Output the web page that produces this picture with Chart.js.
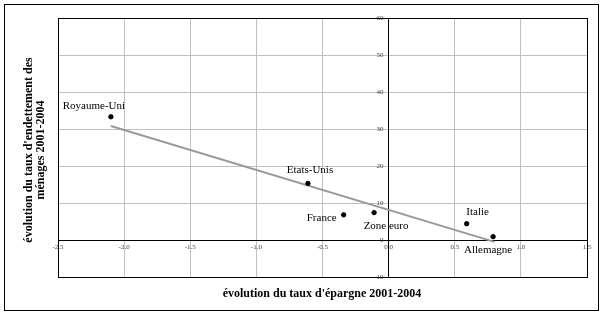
<!DOCTYPE html>
<html>
<head>
<meta charset="utf-8">
<script src="https://cdn.jsdelivr.net/npm/chart.js@4.4.0/dist/chart.umd.min.js"></script>
<style>
html, body { margin: 0; padding: 0; background: #fff; }
</style>
</head>
<body>
<canvas id="myChart" width="603" height="315"></canvas>
<script>
// valeurs
const pays = ['Royaume-Uni', 'Etats-Unis', 'France', 'Zone euro', 'Italie', 'Allemagne'];
const epargne = [-2.10, -0.61, -0.34, -0.11, 0.59, 0.79];      // evolution du taux d'epargne
const endettement = [33.3, 15.3, 6.8, 7.4, 4.4, 0.9];          // evolution du taux d'endettement
// droite de tendance
const tendanceX = [-2.1, 0.8];
const tendanceY = [30.8, -0.5];

// decalage des etiquettes (px) : dx, dy, alignement
const decalages = [[-17, -11, 'center'], [2, -13, 'center'], [-7, 3, 'right'],
                   [12, 13, 'center'], [11, -12, 'center'], [-5, 13, 'center']];

const serif = 'Liberation Serif, Times New Roman, serif';

/******************************************/
const etiquettes = {
    id: 'etiquettes',
    afterDatasetsDraw(chart) {
        const ctx = chart.ctx;
        const meta = chart.getDatasetMeta(1);
        ctx.save();
        ctx.font = '11px ' + serif;
        ctx.fillStyle = '#000';
        ctx.textBaseline = 'middle';
        meta.data.forEach((pt, i) => {
            ctx.textAlign = decalages[i][2];
            ctx.fillText(pays[i], pt.x + decalages[i][0], pt.y + decalages[i][1]);
        });
        ctx.restore();
    }
};

const cadres = {
    id: 'cadres',
    afterDraw(chart) {
        const ctx = chart.ctx;
        const a = chart.chartArea;
        ctx.save();
        ctx.strokeStyle = '#000';
        ctx.lineWidth = 1;
        ctx.strokeRect(Math.round(a.left) + 0.5, Math.round(a.top) + 0.5,
            Math.round(a.right - a.left), Math.round(a.bottom - a.top));
        ctx.strokeRect(4.5, 4.5, 594, 306);
        // titres des axes
        ctx.fillStyle = '#000';
        ctx.font = 'bold 12px ' + serif;
        ctx.textAlign = 'center';
        ctx.textBaseline = 'middle';
        ctx.fillText("évolution du taux d'épargne 2001-2004", 322, 294);
        ctx.translate(0, 150);
        ctx.rotate(-Math.PI / 2);
        ctx.fillText("évolution du taux d'endettement des", 0, 29);
        ctx.fillText('ménages 2001-2004', 0, 41);
        ctx.restore();
    }
};
/******************************************/

var ctx = document.getElementById('myChart').getContext('2d');
var myChart = new Chart(ctx, {
    type: 'scatter',
    data: {
        datasets: [{
            data: tendanceX.map((x, i) => ({x: x, y: tendanceY[i]})),
            showLine: true,
            borderColor: '#999999',
            borderWidth: 2,
            pointRadius: 0,
            order: 1
        }, {
            data: epargne.map((x, i) => ({x: x, y: endettement[i]})),
            backgroundColor: '#000',
            borderColor: '#000',
            pointRadius: 2.2,
            order: 0
        }]
    },
    options: {
        responsive: false,
        animation: false,
        layout: { padding: { left: 58, top: 18, right: 16, bottom: 38 } },
        plugins: { legend: { display: false }, tooltip: { enabled: false } },
        scales: {
            x: {
                type: 'linear',
                position: { y: 0 },
                min: -2.5, max: 1.5,
                afterFit: (s) => { s.height = 0; },
                grid: { color: '#c0c0c0', drawTicks: false },
                border: { color: '#000', width: 1 },
                ticks: {
                    stepSize: 0.5, maxRotation: 0, padding: 3,
                    color: '#444', font: { family: serif, size: 7 },
                    callback: (v) => v.toFixed(1)
                }
            },
            y: {
                type: 'linear',
                position: { x: 0 },
                min: -10, max: 60,
                afterFit: (s) => { s.width = 0; },
                grid: { color: '#c0c0c0', drawTicks: false },
                border: { color: '#000', width: 1 },
                ticks: {
                    stepSize: 10,
                    color: '#444', font: { family: serif, size: 7 },
                    callback: (v) => v + '   '
                }
            }
        }
    },
    plugins: [etiquettes, cadres]
});
</script>
</body>
</html>
